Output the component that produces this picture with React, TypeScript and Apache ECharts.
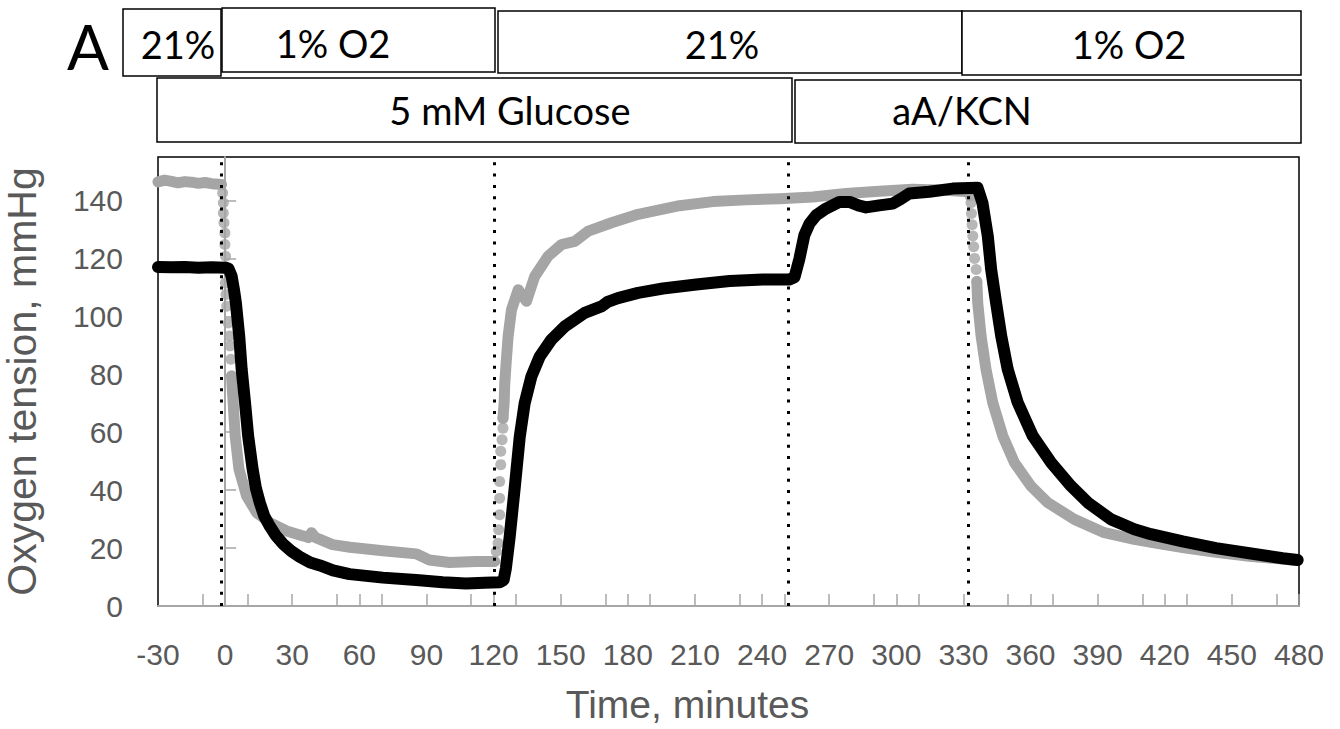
import React, { useEffect, useRef } from "react";
import * as echarts from "echarts";

// ---------- data ----------
const xMin = -30;
const xMax = 480;
const xLabelStep = 30;
const yMin = 0;
const yMax = 155;
const yLabelStep = 20;
const xTickValues = [-10, 0, 10, 30, 50, 60, 70, 90, 110, 120, 130, 150, 170, 180, 190, 210, 230, 240, 250, 270, 290, 300, 310, 330, 350, 360, 370, 390, 410, 420, 430, 450, 470, 480];
const eventTimes = [-1.6, 120.3, 251.9, 332.3];

const xTitle = "Time, minutes";
const yTitle = "Oxygen tension, mmHg";
const panelLetter = "A";
const oxygenRow = ["21%", "1% O2", "21%", "1% O2"];
const treatmentRow = ["5 mM Glucose", "aA/KCN"];

const grayNormoxia1 = [[-30, 146.4], [-27, 147.0], [-24, 146.6], [-21, 146.1], [-18, 146.5], [-15, 146.3], [-12, 145.9], [-9, 146.2], [-6, 145.8], [-3, 145.6], [-1.6, 145.5]];
const grayDropDots1 = [[-1.1, 142.6], [-0.8, 139.2], [-0.8, 135.7], [-0.5, 132.3], [-0.1, 128.8], [-0.1, 124.8], [0.2, 120.7], [0.2, 116.5], [0.1, 111.5], [0.4, 107.5], [0.7, 103.5], [1.4, 97.7], [1.9, 93.2], [2.2, 89.8], [2.6, 85.2], [2.9, 79.4]];
const grayHypoxia1 = [[2.9, 79.4], [3.2, 74.8], [3.6, 70.2], [4.5, 58.7], [6.2, 47.2], [9.6, 38.0], [14.1, 32.2], [20.0, 28.8], [27.5, 25.9], [34.9, 24.2], [37.2, 23.6], [38.6, 25.3], [40.4, 23.6], [42.4, 23.0], [48.0, 21.2], [55.8, 20.3], [70.5, 19.1], [85.4, 18.0], [91.3, 15.9], [100.3, 15.0], [112.2, 15.4], [120.5, 15.4]];
const grayRiseDots = [[121.2, 18.8], [122.0, 21.7], [122.3, 26.3], [122.7, 31.5], [122.7, 37.2], [122.7, 43.0], [123.2, 48.8], [123.2, 53.4], [123.8, 57.4], [124.2, 61.4], [124.2, 64.8]];
const grayReoxygenation = [[124.2, 64.8], [124.7, 70.0], [125.0, 76.9], [125.7, 84.9], [126.5, 93.1], [128.0, 102.3], [131.0, 109.2], [132.5, 107.5], [134.7, 105.2], [138.4, 113.8], [144.4, 120.8], [150.4, 124.8], [156.3, 125.9], [162.3, 129.4], [172.7, 132.3], [184.6, 135.2], [203.1, 138.2], [218.0, 139.6], [232.9, 140.2], [247.8, 140.6], [262.7, 141.2], [277.5, 142.4], [292.4, 143.2], [307.3, 143.9], [322.2, 143.5], [332.4, 143.0]];
const grayDropDots2 = [[333.0, 141.5], [333.4, 139.2], [333.6, 135.5], [333.9, 131.6], [334.2, 127.7], [334.6, 124.0], [335.0, 120.0], [335.7, 116.2], [336.0, 112.0]];
const grayHypoxia2 = [[336.0, 112.0], [336.4, 104.7], [337.9, 93.2], [340.1, 81.7], [343.1, 70.2], [347.6, 58.7], [352.8, 49.5], [360.2, 41.4], [367.7, 35.7], [379.6, 29.9], [393.0, 25.3], [406.4, 23.0], [415.3, 21.8], [428.0, 20.2], [442.9, 18.5], [457.8, 17.2], [472.7, 16.2], [478.0, 15.8]];

const blackTrace = [[-30, 117.0], [-24, 116.9], [-18, 117.0], [-12, 116.8], [-6, 116.9], [0, 116.8], [1.5, 116.5], [2.9, 113.9], [4.0, 109.0], [4.8, 104.7], [6.3, 93.2], [7.4, 81.7], [8.9, 70.2], [10.3, 58.7], [12.3, 47.2], [13.8, 40.5], [15.5, 35.7], [17.5, 31.0], [20.0, 27.5], [22.5, 24.5], [25.8, 21.5], [29.5, 19.0], [33.3, 17.0], [38.0, 15.0], [42.4, 14.0], [48.2, 12.3], [55.6, 11.0], [70.5, 9.8], [85.4, 9.0], [97.3, 8.2], [107.7, 7.8], [116.0, 8.0], [122.7, 8.2], [124.5, 9.0], [125.5, 13.0], [127.2, 23.9], [129.5, 41.2], [131.7, 58.5], [133.9, 70.0], [136.9, 79.2], [140.6, 86.1], [145.8, 91.9], [151.8, 96.5], [160.7, 101.2], [168.2, 103.4], [171.0, 105.0], [175.6, 106.3], [184.6, 108.1], [195.7, 109.6], [210.6, 111.0], [225.5, 112.2], [240.3, 112.7], [252.2, 112.7], [254.5, 113.5], [256.7, 119.9], [258.9, 128.0], [261.2, 132.0], [264.2, 134.9], [268.6, 137.2], [274.6, 139.5], [279.1, 139.5], [283.0, 138.3], [286.5, 137.6], [292.4, 138.3], [298.4, 138.9], [302.0, 140.5], [305.8, 142.4], [314.8, 143.0], [325.2, 144.1], [336.3, 144.4], [338.5, 139.2], [340.9, 127.7], [342.4, 116.2], [344.6, 104.7], [346.9, 93.2], [349.8, 81.7], [354.3, 70.2], [361.0, 58.7], [369.2, 49.5], [378.1, 41.4], [385.6, 35.7], [396.0, 29.9], [406.4, 26.5], [413.8, 24.8], [428.0, 22.3], [442.9, 20.0], [457.8, 18.2], [472.7, 16.5], [479.4, 15.9]];

// ---------- styling ----------
const GRAY = "#a5a5a5";
const BLACK = "#000000";
const AXIS_GRAY = "#a6a6a6";
const TEXT_GRAY = "#595959";
const FONT = "'Liberation Sans', Arial, sans-serif";
const BOX_FONT = "Lato, 'Liberation Sans', sans-serif";

export default function App() {
  const ref = useRef<HTMLDivElement>(null);

  useEffect(() => {
    if (!ref.current) return;
    const chart = echarts.init(ref.current, undefined, { renderer: "svg" });

    const line = (data: number[][], color: string, width: number, extra: any = {}) => ({
      type: "line",
      data,
      showSymbol: false,
      symbol: "none",
      clip: false,
      silent: true,
      lineStyle: { color, width, cap: "round", join: "round" },
      ...extra,
    });
    const dots = (data: number[][], color: string) => ({
      type: "scatter",
      data,
      symbolSize: 11,
      clip: false,
      silent: true,
      itemStyle: { color },
    });

    const row1Boxes = [
      { x: 123, y: 9, w: 98, h: 67, tx: 178, ty: 44 },
      { x: 222, y: 8, w: 273, h: 64, tx: 333, ty: 43 },
      { x: 498, y: 11, w: 464, h: 62, tx: 722, ty: 44 },
      { x: 962, y: 11, w: 339, h: 64, tx: 1129, ty: 44 },
    ];
    const row2Boxes = [
      { x: 157, y: 78, w: 635, h: 64, tx: 510, ty: 110 },
      { x: 795, y: 80, w: 506, h: 63, tx: 962, ty: 110 },
    ];
    const boxGraphics: any[] = [];
    const addBoxes = (boxes: any[], labels: string[]) => {
      boxes.forEach((b, i) => {
        boxGraphics.push({
          type: "rect",
          shape: { x: b.x, y: b.y, width: b.w, height: b.h },
          style: { fill: "#ffffff", stroke: "#000000", lineWidth: 1.5 },
        });
        boxGraphics.push({
          type: "text",
          x: b.tx,
          y: b.ty,
          style: {
            text: labels[i],
            fontSize: 38,
            fontFamily: BOX_FONT,
            fill: "#000000",
            align: "center",
            verticalAlign: "middle",
          },
        });
      });
    };
    addBoxes(row1Boxes, oxygenRow);
    addBoxes(row2Boxes, treatmentRow);
    boxGraphics.push({
      type: "text",
      x: 88,
      y: 46,
      style: {
        text: panelLetter,
        fontSize: 62,
        fontFamily: BOX_FONT,
        fill: "#000000",
        align: "center",
        verticalAlign: "middle",
      },
    });

    chart.setOption({
      animation: false,
      backgroundColor: "#ffffff",
      grid: {
        left: 158,
        top: 157,
        width: 1141,
        height: 449,
        show: true,
        borderColor: "#000000",
        borderWidth: 1.5,
        backgroundColor: "transparent",
        containLabel: false,
        outerBoundsMode: "none",
      },
      xAxis: {
        type: "value",
        min: xMin,
        max: xMax,
        interval: xLabelStep,
        name: xTitle,
        nameLocation: "middle",
        nameGap: 79,
        nameMoveOverlap: false,
        nameTextStyle: { fontSize: 39, color: TEXT_GRAY, fontFamily: FONT, padding: [0, 82, 0, 0] },
        axisLine: { show: true, lineStyle: { color: AXIS_GRAY, width: 2 } },
        axisTick: { show: true, inside: true, length: 12, customValues: xTickValues, lineStyle: { color: AXIS_GRAY, width: 1.5 } },
        axisLabel: { fontSize: 30, color: TEXT_GRAY, fontFamily: FONT, margin: 33 },
        splitLine: { show: false },
      },
      yAxis: {
        type: "value",
        min: yMin,
        max: yMax,
        interval: yLabelStep,
        name: yTitle,
        nameLocation: "middle",
        nameGap: 116,
        nameMoveOverlap: false,
        nameTextStyle: { fontSize: 41, color: TEXT_GRAY, fontFamily: FONT },
        axisLine: { show: true, lineStyle: { color: AXIS_GRAY, width: 2 } },
        axisTick: { show: true, inside: true, length: 11, lineStyle: { color: AXIS_GRAY, width: 1.5 } },
        axisLabel: { fontSize: 30, color: TEXT_GRAY, fontFamily: FONT, margin: 35, showMaxLabel: false },
        splitLine: { show: false },
      },
      graphic: boxGraphics,
      series: [
        line(grayNormoxia1, GRAY, 11, {
          markLine: {
            silent: true,
            symbol: ["none", "none"],
            label: { show: false },
            lineStyle: { color: BLACK, type: [3, 8.3], width: 3 },
            data: eventTimes.map((t) => ({ xAxis: t })),
          },
        }),
        dots(grayDropDots1, GRAY),
        line(grayHypoxia1, GRAY, 11),
        dots(grayRiseDots, GRAY),
        line(grayReoxygenation, GRAY, 11),
        dots(grayDropDots2, GRAY),
        line(grayHypoxia2, GRAY, 11),
        line(blackTrace, BLACK, 12),
      ],
    });

    return () => chart.dispose();
  }, []);

  return (
    <div
      ref={ref}
      style={{ position: "fixed", left: 0, top: 0, width: 1340, height: 729, background: "#fff" }}
    />
  );
}
